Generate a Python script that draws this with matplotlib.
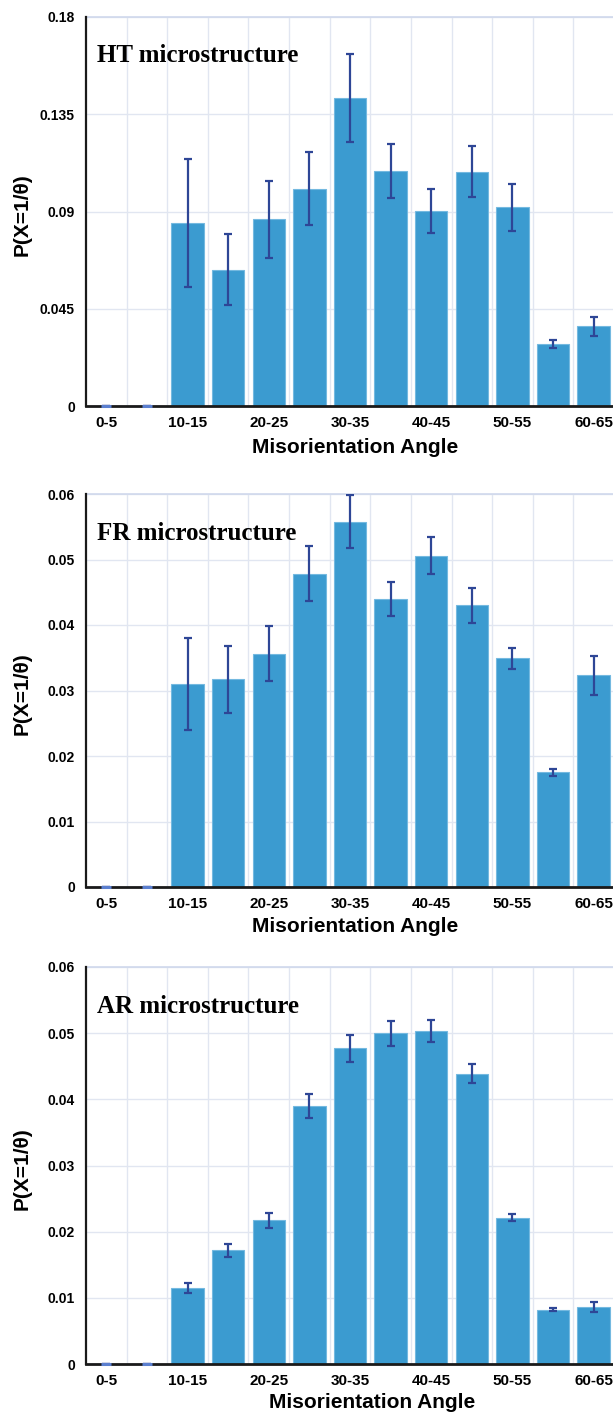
import matplotlib
matplotlib.use("Agg")
import matplotlib.pyplot as plt
import numpy as np

# Misorientation angle bins (degrees)
bins = ["0-5", "5-10", "10-15", "15-20", "20-25", "25-30", "30-35",
        "35-40", "40-45", "45-50", "50-55", "55-60", "60-65"]

# HT microstructure
ht_vals = [0.0, 0.0, 0.0846, 0.0631, 0.0863, 0.1005, 0.1425,
           0.1088, 0.0902, 0.1083, 0.0920, 0.0286, 0.0368]
ht_err = [0.0, 0.0, 0.0295, 0.0164, 0.0178, 0.0169, 0.0205,
          0.0126, 0.0102, 0.0118, 0.0108, 0.0018, 0.0042]

# FR microstructure
fr_vals = [0.0, 0.0, 0.0310, 0.0317, 0.0356, 0.0478, 0.0558,
           0.0440, 0.0506, 0.0430, 0.0349, 0.0175, 0.0323]
fr_err = [0.0, 0.0, 0.0070, 0.0051, 0.0042, 0.0042, 0.0040,
          0.0026, 0.0028, 0.0027, 0.0016, 0.0005, 0.0030]

# AR microstructure
ar_vals = [0.0, 0.0, 0.0115, 0.0172, 0.0217, 0.0390, 0.0477,
           0.0500, 0.0503, 0.0439, 0.0221, 0.0082, 0.0086]
ar_err = [0.0, 0.0, 0.0008, 0.0010, 0.0011, 0.0018, 0.0020,
          0.0019, 0.0017, 0.0014, 0.0005, 0.0002, 0.0008]

titles = ["HT microstructure", "FR microstructure", "AR microstructure"]
ymaxes = [0.18, 0.06, 0.06]
yticks = [[0, 0.045, 0.09, 0.135, 0.18],
          [0, 0.01, 0.02, 0.03, 0.04, 0.05, 0.06],
          [0, 0.01, 0.02, 0.03, 0.04, 0.05, 0.06]]
ytick_labels = [["0", "0.045", "0.09", "0.135", "0.18"],
                ["0", "0.01", "0.02", "0.03", "0.04", "0.05", "0.06"],
                ["0", "0.01", "0.02", "0.03", "0.04", "0.05", "0.06"]]
series = [(ht_vals, ht_err), (fr_vals, fr_err), (ar_vals, ar_err)]

BAR = "#3b9bd0"
BAR_EDGE = "#74b9e0"
ERR = "#2e4696"
GRID = "#e1e6f1"
SPINE = "#1a1a1a"

W, H = 613, 1418
fig = plt.figure(figsize=(W / 100, H / 100), dpi=100)

# axes boxes in pixels: (left, top, right, bottom)
boxes = [(86, 17, 614, 406), (86, 494, 614, 887), (86, 967, 614, 1364)]
# x-axis title placement (centre x, centre y) in pixels
xlabel_pos = [(355, 447), (355, 926), (372, 1403)]

x = np.arange(len(bins))
for ax_i, (box, (vals, errs)) in enumerate(zip(boxes, series)):
    l, t, r, b = box
    ax = fig.add_axes([l / W, 1 - b / H, (r - l) / W, (b - t) / H])
    ax.bar(x, vals, width=0.8, color=BAR, edgecolor=BAR_EDGE, linewidth=0.8,
           zorder=2)
    ax.errorbar(x, vals, yerr=errs, fmt="none", ecolor=ERR, elinewidth=1.6,
                capsize=3.2, capthick=1.6, zorder=3)
    # zero-height bins still show their flat error caps on the baseline
    zero_idx = [i for i, v in enumerate(vals) if v == 0]
    ax.plot(x[zero_idx], [0] * len(zero_idx), linestyle="none", marker="_",
            markersize=7, markeredgewidth=2.2, color="#5b7fcf", zorder=4,
            clip_on=False)
    ax.set_xlim(-0.5, 12.5)
    ax.set_ylim(0, ymaxes[ax_i])
    ax.set_yticks(yticks[ax_i])
    ax.set_yticklabels(ytick_labels[ax_i])
    ax.set_xticks(x[::2])
    ax.set_xticklabels(bins[::2])
    ax.set_xticks(x[:-1] + 0.5, minor=True)
    ax.tick_params(axis="both", which="both", length=0)
    ax.tick_params(axis="y", pad=8, labelsize=10)
    ax.tick_params(axis="x", pad=7, labelsize=11)
    for lab in ax.get_xticklabels() + ax.get_yticklabels():
        lab.set_fontweight("bold")
        lab.set_family("Liberation Sans")
    ax.grid(axis="y", which="major", color=GRID, linewidth=1.0, zorder=0)
    ax.grid(axis="x", which="minor", color=GRID, linewidth=1.0, zorder=0)
    ax.set_axisbelow(True)
    for side in ("top", "right"):
        ax.spines[side].set_visible(False)
    ax.axhline(ymaxes[ax_i], color="#cfd8ec", linewidth=1.2, zorder=1,
               clip_on=False)
    ax.spines["left"].set_color(SPINE)
    ax.spines["left"].set_linewidth(1.6)
    ax.spines["bottom"].set_color(SPINE)
    ax.spines["bottom"].set_linewidth(2.0)

    cx, cy = xlabel_pos[ax_i]
    fig.text(cx / W, 1 - cy / H, "Misorientation Angle", fontsize=15,
             fontweight="bold", family="Liberation Sans",
             ha="center", va="center")
    fig.text(22 / W, 1 - ((t + b) / 2 + 3) / H, "P(X=1/\u03b8)", fontsize=15,
             fontweight="bold", family="Liberation Sans", rotation=90,
             ha="center", va="center")
    ax.text(0.021, 0.90, titles[ax_i], transform=ax.transAxes,
            fontsize=18, fontweight="bold", family="Liberation Serif",
            va="center", ha="left", zorder=4)

fig.savefig("out.png", dpi=100, facecolor="white")
